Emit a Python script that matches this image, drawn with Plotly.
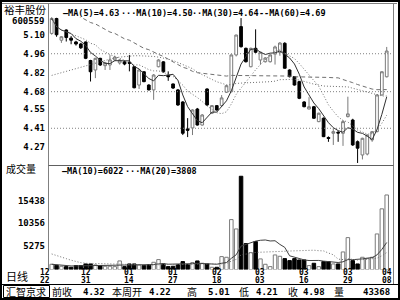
import plotly.graph_objects as go
import pandas as pd

# ---------------- data ----------------
dates = ["12/22", "12/23", "12/24", "12/27", "12/28", "12/29", "12/30", "12/31",
         "01/04", "01/05", "01/06", "01/07", "01/10", "01/11", "01/12", "01/13", "01/14",
         "01/17", "01/18", "01/19", "01/20", "01/21", "01/24", "01/25", "01/26", "01/27",
         "01/28", "01/31", "02/01", "02/02", "02/03", "02/04", "02/16", "02/17", "02/18",
         "02/21", "02/22", "02/23", "02/24", "02/25", "02/28", "03/01", "03/02", "03/03",
         "03/04", "03/07", "03/08", "03/09", "03/10", "03/11", "03/14", "03/15", "03/16",
         "03/17", "03/18", "03/21", "03/22", "03/23", "03/24", "03/25", "03/28", "03/29",
         "03/30", "03/31", "04/01", "04/04", "04/05", "04/06", "04/07", "04/08"]

opens = [5.11, 5.22, 5.06, 5.135, 5.075, 5.047, 5.032, 5.047, 4.91, 4.84,
         4.926, 4.872, 4.877, 4.915, 4.892, 4.90, 4.895, 4.864, 4.729, 4.827,
         4.729, 4.693, 4.864, 4.90, 4.80, 4.737, 4.693, 4.604, 4.405, 4.412,
         4.552, 4.434, 4.70, 4.521, 4.577, 4.577, 4.676, 4.68, 4.951, 5.16,
         5.00, 4.864, 5.00, 4.914, 4.901, 4.901, 4.958, 4.97, 5.037, 4.84,
         4.791, 4.754, 4.604, 4.552, 4.569, 4.459, 4.484, 4.342, 4.373, 4.38,
         4.373, 4.496, 4.471, 4.311, 4.213, 4.22, 4.324, 4.385, 4.656, 4.79]
highs = [5.23, 5.225, 5.09, 5.14, 5.09, 5.055, 5.04, 5.05, 4.915, 4.93,
         4.93, 4.90, 4.95, 4.945, 4.92, 4.91, 4.95, 4.87, 4.845, 4.83,
         4.735, 4.81, 4.92, 4.905, 4.83, 4.74, 4.70, 4.61, 4.485, 4.55,
         4.56, 4.515, 4.705, 4.58, 4.58, 4.655, 4.73, 4.955, 5.10, 5.223,
         5.005, 5.005, 5.14, 4.975, 4.935, 4.955, 5.02, 5.045, 5.045, 4.845,
         4.795, 4.76, 4.61, 4.64, 4.575, 4.525, 4.49, 4.35, 4.41, 4.39,
         4.47, 4.643, 4.48, 4.32, 4.34, 4.365, 4.39, 4.66, 4.83, 5.01]
lows = [5.10, 5.085, 5.04, 5.05, 5.03, 5.02, 4.995, 4.92, 4.755, 4.78,
        4.87, 4.84, 4.84, 4.905, 4.88, 4.875, 4.83, 4.705, 4.70, 4.75,
        4.69, 4.62, 4.86, 4.82, 4.76, 4.70, 4.575, 4.36, 4.345, 4.36,
        4.43, 4.43, 4.575, 4.515, 4.54, 4.57, 4.67, 4.675, 4.94, 5.005,
        4.895, 4.86, 4.965, 4.88, 4.895, 4.895, 4.88, 4.945, 4.85, 4.785,
        4.725, 4.625, 4.565, 4.55, 4.48, 4.455, 4.345, 4.31, 4.287, 4.31,
        4.28, 4.49, 4.28, 4.154, 4.18, 4.21, 4.31, 4.38, 4.65, 4.785]
closes = [5.22, 5.10, 5.085, 5.08, 5.06, 5.032, 5.004, 4.926, 4.827, 4.926,
          4.877, 4.892, 4.914, 4.935, 4.914, 4.884, 4.89, 4.709, 4.84, 4.754,
          4.693, 4.803, 4.914, 4.827, 4.79, 4.707, 4.582, 4.373, 4.395, 4.545,
          4.434, 4.508, 4.582, 4.577, 4.545, 4.634, 4.724, 4.951, 5.098, 5.012,
          4.901, 5.00, 4.971, 4.971, 4.929, 4.951, 5.01, 5.039, 4.853, 4.791,
          4.729, 4.631, 4.569, 4.569, 4.484, 4.521, 4.348, 4.335, 4.385, 4.375,
          4.459, 4.516, 4.287, 4.263, 4.336, 4.36, 4.385, 4.656, 4.827, 4.98]
volumes = [1190, 970, 750, 670, 520, 900, 900, 1270, 1270, 1040,
           900, 750, 750, 670, 1940, 670, 1270, 1270, 1040, 900,
           1120, 1640, 2240, 1270, 670, 750, 1120, 1790, 1120, 1570,
           1940, 1420, 1270, 520, 520, 2910, 2760, 11190, 9100, 20890,
           5820, 3800, 6270, 2390, 1190, 670, 3280, 2980, 2460, 2010,
           2460, 2160, 2160, 900, 1420, 670, 1790, 1790, 1270, 1270,
           3950, 7160, 2010, 1270, 2760, 2460, 2760, 7980, 13600, 16700]

# moving-average values read off the picture where the averaging window reaches
# back before the first visible session (values above the panel top are clipped)
ma30_early = [4.80, 4.81, 4.82, 4.83, 4.845, 4.855, 4.865, 4.875, 4.885, 4.895,
              4.905, 4.91, 4.92, 4.93, 4.935, 4.94, 4.945, 4.945, 4.945, 4.945,
              4.945, 4.94, 4.935, 4.93, 4.92, 4.91, 4.895, 4.88, 4.865]
ma60_early = [5.33, 5.31, 5.30, 5.28, 5.26, 5.245, 5.23, 5.21, 5.19, 5.18,
              5.16, 5.14, 5.12, 5.11, 5.09, 5.07, 5.06, 5.04, 5.02, 5.00,
              4.99, 4.97, 4.955, 4.94, 4.92, 4.90, 4.88, 4.86, 4.85, 4.83,
              4.82, 4.815, 4.81, 4.805, 4.80, 4.80, 4.795, 4.80, 4.80, 4.80,
              4.80, 4.80, 4.80, 4.80, 4.80, 4.80, 4.80, 4.80, 4.795, 4.795,
              4.79, 4.79, 4.79, 4.79, 4.785, 4.785, 4.785, 4.785, 4.783]
vma20_early = [3500, 3200, 2850, 2450, 2100, 1800, 1550, 1420, 1380, 1350,
               1320, 1300, 1280, 1250, 1230, 1200, 1150, 1100, 1050]

price_ticks = [5.10, 4.96, 4.82, 4.68, 4.55, 4.41, 4.27]
price_grid = [4.96, 4.68, 4.41]
vol_ticks = [15438, 10356, 5275]
label_dates = ["12/22", "12/31", "01/14", "01/27", "02/18", "03/03", "03/16", "03/29", "04/08"]

price_legend = ["—MA(5)=4.63", "···MA(10)=4.50", "··MA(30)=4.64", "--MA(60)=4.69"]
vol_legend = ["—MA(10)=6022", "···MA(20)=3808"]
stock_name = "裕丰股份"
stock_code = "600559"
status = [("汇智京求", "c"), ("前收", "c"), ("4.32", "r"), ("本周开", "c"), ("4.22", "r"),
          ("高", "c"), ("5.01", "r"), ("低", "c"), ("4.21", "r"), ("收", "c"),
          ("4.98", "r"), ("量", "c"), ("43368", "r")]

# ---------------- derived series ----------------
cs = pd.Series(closes)
vs = pd.Series(volumes)
ma5 = cs.rolling(5, min_periods=1).mean()
ma10 = cs.rolling(10, min_periods=1).mean()
r30 = cs.rolling(30).mean()
r60 = cs.rolling(60).mean()
ma30 = [ma30_early[i] if i < len(ma30_early) else r30[i] for i in range(len(closes))]
ma60 = [ma60_early[i] if i < len(ma60_early) else r60[i] for i in range(len(closes))]
vma10 = vs.rolling(10, min_periods=1).mean()
r20 = vs.rolling(20).mean()
vma20 = [vma20_early[i] if i < len(vma20_early) else r20[i] for i in range(len(volumes))]

# ---------------- geometry helpers ----------------
W, H = 400, 300
def px(x):
    return x / W
def py(y):
    return 1 - y / H

X_L, X_R = 48, 392
P_TOP, P_BOT = 17, 165
V_BOT = 269.6
xrange_ = [-0.76, 70.09]
prange = [4.139, 5.231]
vrange = [0, 23410]

MONO = "DejaVu Sans Mono"
CJK = "Noto Sans CJK SC"

fig = go.Figure()

up = [c >= o for o, c in zip(opens, closes)]

fig.add_trace(go.Candlestick(
    x=dates, open=opens, high=highs, low=lows, close=closes,
    increasing=dict(line=dict(color="#7a7a7a", width=1), fillcolor="white"),
    decreasing=dict(line=dict(color="black", width=1), fillcolor="black"),
    whiskerwidth=0, xaxis="x", yaxis="y", showlegend=False, hoverinfo="skip"))

for s, col, dash in [(ma5, "#303030", "solid"), (ma10, "#707070", "1px,2px"),
                     (ma30, "#707070", "1px,2px"), (ma60, "#707070", "4px,3px")]:
    fig.add_trace(go.Scatter(x=dates, y=list(s), mode="lines", xaxis="x", yaxis="y",
                             line=dict(color=col, width=1, dash=dash),
                             showlegend=False, hoverinfo="skip"))

fig.add_trace(go.Bar(
    x=dates, y=volumes, xaxis="x2", yaxis="y2", width=0.72,
    marker=dict(color=["white" if u else "black" for u in up],
                line=dict(color=["#7a7a7a" if u else "black" for u in up], width=1)),
    showlegend=False, hoverinfo="skip"))

for s, col, dash in [(vma10, "#404040", "solid"), (vma20, "#707070", "1px,2px")]:
    fig.add_trace(go.Scatter(x=dates, y=list(s), mode="lines", xaxis="x2", yaxis="y2",
                             line=dict(color=col, width=1, dash=dash),
                             showlegend=False, hoverinfo="skip"))

shapes = []
def line(x0, y0, x1, y1, color="black", width=1, dash="solid", yref="paper"):
    shapes.append(dict(type="line", xref="paper", yref=yref, x0=x0, y0=y0, x1=x1, y1=y1,
                       line=dict(color=color, width=width, dash=dash), layer="above"))

# frame
shapes.append(dict(type="rect", xref="paper", yref="paper", x0=px(1), y0=py(299), x1=px(399), y1=py(1),
                   line=dict(color="black", width=2)))
line(px(2), py(3.5), px(397), py(3.5), color="#808080")
line(px(48.5), py(3.5), px(48.5), py(270), color="#808080")
line(px(393.5), py(3.5), px(393.5), py(284), color="#808080")
line(px(48.5), py(165.5), px(393.5), py(165.5), color="#606060")
line(px(1), py(284.5), px(399), py(284.5), color="black")
shapes.append(dict(type="rect", xref="paper", yref="paper", x0=px(3.5), y0=py(297.5), x1=px(49.5), y1=py(285.5),
                   line=dict(color="black", width=1)))
for g in price_grid:
    line(px(X_L), g, px(X_R), g, color="#808080", dash="1px,2px", yref="y")

ann = []
def text(x, y, t, size=9, family=MONO, xanchor="left", bold=False, xref="paper", xshift=0):
    ann.append(dict(x=x if xref != "paper" else px(x), y=py(y), xref=xref, yref="paper",
                    text=("<b>%s</b>" % t) if bold else t, showarrow=False,
                    xanchor=xanchor, yanchor="middle", xshift=xshift,
                    font=dict(family=family, size=size, color="black")))

text(25, 10, stock_name, size=10.5, family=CJK, xanchor="center")
text(28, 21.5, stock_code, size=9, bold=True, xanchor="center")
text(4, 168.5, "成交量", size=10, family=CJK)
text(4, 275.5, "日线", size=11, family=CJK)

for x, t in zip([61, 119, 190, 257], price_legend):
    text(x, 13, t, size=8.5, bold=True)
for x, t in zip([60, 123], vol_legend):
    text(x, 171, t, size=8.5, bold=True)

for d in label_dates:
    i = dates.index(d)
    sh = -7 if i == 0 else 0
    text(i, 272.5, d[:2], size=8, bold=True, xanchor="center", xref="x2", xshift=sh)
    text(i, 280.5, d[3:], size=8, bold=True, xanchor="center", xref="x2", xshift=sh)

status_x = [26, 62, 107, 127, 173, 192, 232, 244, 280, 293, 327, 339, 392]
for (t, a), x in zip(status, status_x):
    if a == "c":
        text(x, 291.5, t, size=10, family=CJK, xanchor="center")
    else:
        text(x, 291.5, t, size=9, bold=True, xanchor="right")

fig.update_layout(
    width=W, height=H, margin=dict(l=0, r=0, t=0, b=0),
    paper_bgcolor="white", plot_bgcolor="white", showlegend=False,
    shapes=shapes, annotations=ann, boxgap=0.2,
    xaxis=dict(domain=[px(X_L), px(X_R)], range=xrange_, type="category", anchor="y",
               showticklabels=False, showgrid=False, zeroline=False, showline=False,
               rangeslider=dict(visible=False), fixedrange=True),
    yaxis=dict(domain=[py(P_BOT), py(P_TOP)], range=prange, anchor="x",
               tickvals=price_ticks, ticktext=["%.2f" % v for v in price_ticks],
               tickfont=dict(family=MONO, size=9, color="black", weight="bold"),
               showgrid=False, zeroline=False, showline=False, ticks="", ticklabelstandoff=2),
    xaxis2=dict(domain=[px(X_L), px(X_R)], range=xrange_, type="category", anchor="y2",
                showticklabels=False, showgrid=False, zeroline=False, showline=False),
    yaxis2=dict(domain=[py(V_BOT), py(P_BOT)], range=vrange, anchor="x2",
                tickvals=vol_ticks, ticktext=[str(v) for v in vol_ticks],
                tickfont=dict(family=MONO, size=9, color="black", weight="bold"),
                showgrid=False, zeroline=False, showline=False, ticks="", ticklabelstandoff=2),
)

fig.write_html("out.html", config={"displayModeBar": False})
